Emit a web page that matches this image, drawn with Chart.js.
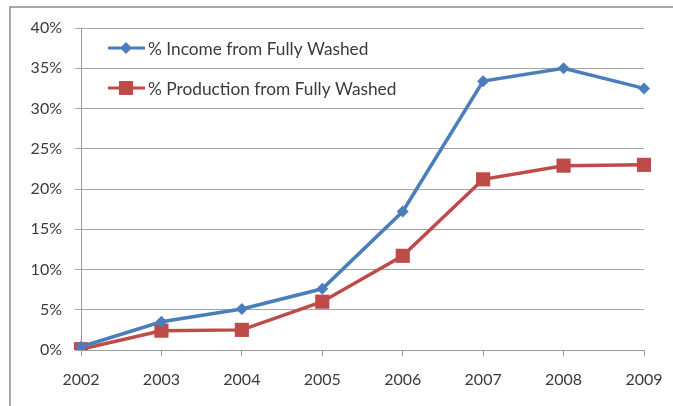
<!DOCTYPE html>
<html>
<head>
<meta charset="utf-8">
<script src="https://cdn.jsdelivr.net/npm/chart.js@4/dist/chart.umd.min.js"></script>
<style>
  html, body { margin: 0; padding: 0; background: #fff; }
  #wrap { width: 673px; height: 406px; position: relative; }
</style>
</head>
<body>
<div id="wrap"><canvas id="c" width="673" height="406"></canvas></div>
<script>
const years = ['2002', '2003', '2004', '2005', '2006', '2007', '2008', '2009'];
const incomeShare = [0.4, 3.5, 5.1, 7.6, 17.2, 33.4, 35.0, 32.5];
const productionShare = [0.1, 2.4, 2.5, 6.0, 11.7, 21.2, 22.9, 23.0];
const seriesNames = ['% Income from Fully Washed', '% Production from Fully Washed'];

const FONT = 'Lato, "Liberation Sans", sans-serif';
const TEXT = '#3a3a3a';
const BLUE = '#4A7EBB';
const RED = '#BE4B48';

const frame = {
  id: 'frame',
  beforeDraw(chart) {
    const ctx = chart.ctx;
    ctx.save();
    ctx.fillStyle = '#fff';
    ctx.fillRect(0, 0, chart.width, chart.height);
    ctx.strokeStyle = '#8a8a8a';
    ctx.lineWidth = 1.5;
    ctx.beginPath();
    ctx.moveTo(10, 420);
    ctx.lineTo(10, 7);
    ctx.lineTo(700, 7);
    ctx.stroke();
    ctx.restore();
  }
};

const inLegend = {
  id: 'inLegend',
  afterDraw(chart) {
    const ctx = chart.ctx;
    ctx.save();
    const rows = [48, 88];
    chart.data.datasets.forEach((ds, i) => {
      const y = rows[i];
      ctx.strokeStyle = ds.borderColor;
      ctx.lineWidth = 3;
      ctx.beginPath();
      ctx.moveTo(108, y);
      ctx.lineTo(145, y);
      ctx.stroke();
      ctx.fillStyle = ds.backgroundColor;
      ctx.beginPath();
      if (i === 0) {
        ctx.moveTo(126 - 6, y);
        ctx.lineTo(126, y - 6);
        ctx.lineTo(126 + 6, y);
        ctx.lineTo(126, y + 6);
        ctx.closePath();
      } else {
        ctx.rect(126 - 7, y - 7, 14, 14);
      }
      ctx.fill();
      ctx.fillStyle = TEXT;
      ctx.font = '17.3px ' + FONT;
      ctx.textBaseline = 'middle';
      ctx.textAlign = 'left';
      ctx.fillText(ds.label, 148, y + 1);
    });
    ctx.restore();
  }
};

new Chart(document.getElementById('c'), {
  type: 'line',
  data: {
    labels: years,
    datasets: [
      {
        label: seriesNames[0],
        data: incomeShare,
        borderColor: BLUE,
        backgroundColor: BLUE,
        borderWidth: 3.5,
        pointStyle: 'rectRot',
        pointRadius: 6,
        pointHoverRadius: 6,
        pointBorderWidth: 0,
        tension: 0
      },
      {
        label: seriesNames[1],
        data: productionShare,
        borderColor: RED,
        backgroundColor: RED,
        borderWidth: 3.5,
        pointStyle: 'rect',
        pointRadius: 10,
        pointHoverRadius: 10,
        pointBorderWidth: 0,
        tension: 0
      }
    ]
  },
  options: {
    responsive: false,
    animation: false,
    devicePixelRatio: 1,
    layout: { padding: { left: 0, top: 28, right: 29, bottom: 0 } },
    plugins: {
      legend: { display: false },
      tooltip: { enabled: false }
    },
    scales: {
      x: {
        offset: false,
        afterFit(s) { s.height = 56; s.paddingLeft = 0; s.paddingRight = 0; },
        grid: { display: true, drawOnChartArea: false, drawTicks: true, tickLength: 6, color: '#9a9a9a', lineWidth: 1 },
        border: { display: true, color: '#9a9a9a', width: 1 },
        ticks: { color: TEXT, font: { family: FONT, size: 16 }, padding: 14, maxRotation: 0, autoSkip: false }
      },
      y: {
        min: 0,
        max: 40,
        afterFit(s) { s.width = 81; s.paddingTop = 0; s.paddingBottom = 0; },
        grid: { color: '#a6a6a6', lineWidth: 1, tickLength: 6, drawTicks: true },
        border: { display: true, color: '#9a9a9a', width: 1 },
        ticks: { stepSize: 5, color: TEXT, font: { family: FONT, size: 16 }, padding: 13, callback: v => v + '%' }
      }
    }
  },
  plugins: [frame, inLegend]
});
</script>
</body>
</html>
